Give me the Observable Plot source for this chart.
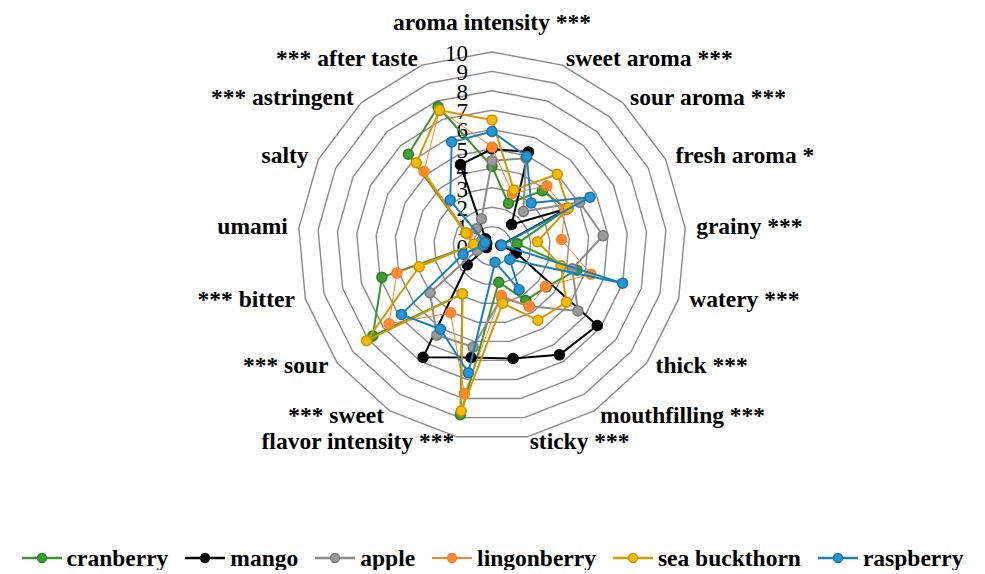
<!DOCTYPE html>
<html>
<head>
<meta charset="utf-8">
<script src="https://cdn.jsdelivr.net/npm/d3@7"></script>
<script src="https://cdn.jsdelivr.net/npm/@observablehq/plot@0.6"></script>
<style>
  html, body { margin: 0; padding: 0; background: #fff; }
  #chart { width: 985px; }
  #legend { display: flex; justify-content: center; align-items: center; gap: 17px;
    margin-top: 16px; height: 24px; font-family: "Liberation Serif", serif; font-weight: bold; font-size: 23.5px; color: #000; }
  .item { display: flex; align-items: center; gap: 5px; white-space: nowrap; }
</style>
</head>
<body>
<div id="chart"></div>
<div id="legend"></div>
<script>
// ---- data ----
const categories = ["aroma intensity ***", "sweet aroma ***", "sour aroma ***", "fresh aroma *", "grainy ***",
  "watery ***", "thick ***", "mouthfilling ***", "sticky ***", "flavor intensity ***", "*** sweet", "*** sour",
  "*** bitter", "umami", "salty", "*** astringent", "*** after taste"];
const ticks = [0, 1, 2, 3, 4, 5, 6, 7, 8, 9, 10];
const seriesNames = ["cranberry", "mango", "apple", "lingonberry", "sea buckthorn", "raspberry"];
const cranberry    = [4.1, 2.35, 3.85, 4.3, 1.3, 4.55, 3.5, 3.3, 1.9, 8.85, 2.9, 7.7, 5.9, 0.9, 1.5, 6.4, 7.7];
const mango        = [5.0, 5.2, 1.5, 4.3, 0.45, 1.3, 6.8, 6.6, 5.9, 5.85, 6.75, 1.6, 0.3, 0.3, 0.3, 0.5, 4.5];
const apple        = [4.4, 4.85, 2.4, 5.05, 5.75, 4.3, 5.55, 3.65, 2.7, 5.3, 5.4, 4.0, 0.8, 0.5, 0.6, 1.2, 1.5];
const lingonberry  = [5.1, 2.9, 4.2, 4.2, 3.6, 5.3, 3.45, 3.65, 2.6, 7.75, 4.05, 6.65, 5.1, 0.9, 1.4, 5.2, 7.5];
const seaBuckthorn = [6.5, 3.1, 5.0, 4.4, 2.35, 3.7, 4.8, 4.5, 3.0, 8.65, 2.9, 8.1, 3.9, 0.95, 1.5, 5.8, 7.5];
const raspberry    = [5.9, 4.95, 3.0, 5.65, 0.5, 7.0, 1.15, 2.65, 0.85, 6.65, 5.05, 5.85, 1.55, 0.45, 0.4, 3.2, 5.75];

// ---- styles ----
const seriesValues = [cranberry, mango, apple, lingonberry, seaBuckthorn, raspberry];
const lineColor = ["#3a962e", "#000000", "#8c8c8c", "#ff7f27", "#d19a00", "#1a80b8"];
const dotFill   = ["#3f9f33", "#000000", "#9a9a9a", "#ff8a33", "#f5bb00", "#2596d4"];
const dotStroke = ["#2c7e22", "#000000", "#7a7a7a", "#ff7f27", "#c99300", "#1a72a6"];
const lineWidth = [2, 2, 2, 1, 2, 2];

const W = 985, H = 530, cx = 491.5, cy = 245.5, unit = 19.4;
const n = categories.length;
const ang = i => i * 2 * Math.PI / n;
const toXY = (v, i) => ({x: v * Math.sin(ang(i)), y: v * Math.cos(ang(i))});

// rings
const rings = [];
for (const k of ticks.slice(1)) for (let i = 0; i < n; i++) rings.push({ring: k, ...toXY(k, i)});

// series points
const pts = seriesNames.map((name, s) => seriesValues[s].map((v, i) => ({name, i, v, ...toXY(v, i)})));

// category label layout
const labelR = 205 / unit;
const labels = categories.map((c, i) => {
  const s = Math.sin(ang(i)), co = Math.cos(ang(i));
  const anchor = Math.abs(s) < 0.1 ? "middle" : (s > 0 ? "start" : "end");
  const dyPx = Math.abs(s) < 0.1 ? -co * 18.5 : (-1 + 5 * co);
  return {label: c, anchor, x: labelR * s, y: labelR * co - dyPx / unit};
});
const textFont = {fontFamily: "Liberation Serif", fontWeight: "bold", fontSize: 23.5, fill: "#000"};

const marks = [
  Plot.line(rings, {x: "x", y: "y", z: "ring", curve: "linear-closed", stroke: "#8a8a8a", strokeWidth: 1.4}),
  Plot.text(ticks, {x: () => 0, y: d => d, text: d => String(d), textAnchor: "end", dx: -24, dy: 1.5,
    fontFamily: "Liberation Serif", fontSize: 23, fill: "#000"})
];
pts.forEach((p, s) => {
  marks.push(Plot.line(p, {x: "x", y: "y", curve: "linear-closed", stroke: lineColor[s], strokeWidth: lineWidth[s]}));
  marks.push(Plot.dot(p, {x: "x", y: "y", r: 5, fill: dotFill[s], stroke: dotStroke[s], strokeWidth: 1.5}));
});
for (const a of ["start", "middle", "end"]) {
  marks.push(Plot.text(labels.filter(d => d.anchor === a), {x: "x", y: "y", text: "label", textAnchor: a, ...textFont}));
}

const chart = Plot.plot({
  width: W, height: H, margin: 0,
  x: {domain: [-cx / unit, (W - cx) / unit], axis: null},
  y: {domain: [-(H - cy) / unit, cy / unit], axis: null},
  style: {background: "#fff", overflow: "visible"},
  marks
});
document.getElementById("chart").appendChild(chart);

// legend
const legend = d3.select("#legend");
seriesNames.forEach((name, s) => {
  const item = legend.append("div").attr("class", "item");
  const sv = item.append("svg").attr("width", 40).attr("height", 14);
  sv.append("line").attr("x1", 0).attr("x2", 40).attr("y1", 7).attr("y2", 7)
    .attr("stroke", lineColor[s]).attr("stroke-width", lineWidth[s] === 1 ? 2 : 2.5);
  sv.append("circle").attr("cx", 20).attr("cy", 7).attr("r", 4.5)
    .attr("fill", dotFill[s]).attr("stroke", dotStroke[s]).attr("stroke-width", 1.3);
  item.append("span").text(name);
});
</script>
</body>
</html>
